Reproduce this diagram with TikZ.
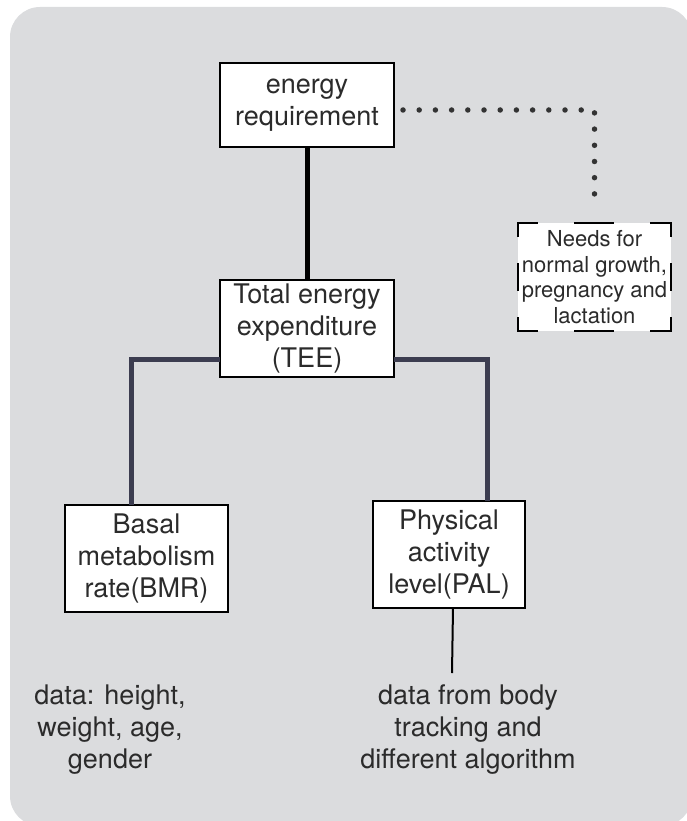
\documentclass[tikz,border=0pt]{standalone}
\usepackage{xcolor}
\usepackage{fontspec}
\setmainfont{TeX Gyre Heros}
\usepackage{tikz}
\usetikzlibrary{positioning, calc}
\definecolor{panel}{HTML}{DBDCDE}
\definecolor{ink}{HTML}{2B2B2B}
\definecolor{navy}{HTML}{3C3D50}
\definecolor{dotgray}{HTML}{333333}
\newcommand{\bigtext}{\fontsize{27}{32}\selectfont}
\newcommand{\smalltext}{\fontsize{22}{25.5}\selectfont}

\begin{document}
\begin{tikzpicture}[
    x = 1pt, y = -1pt, align = center, text = ink,
    block/.style = {
      rectangle, draw = black, fill = white, line width = 2.5pt,
      inner sep = 0pt, outer sep = 0pt, font = \bigtext
    },
    needsbox/.style = {
      rectangle, fill = white, inner sep = 0pt, outer sep = 0pt,
      minimum width = 153pt, minimum height = 108pt, font = \smalltext
    },
    datatext/.style = {
      inner sep = 0pt, font = \bigtext
    },
    trunk/.style = {
      draw = black, line width = 5pt
    },
    branch/.style = {
      draw = navy, line width = 5pt
    },
    feed/.style = {
      draw = black, line width = 2pt
    },
    dotlink/.style = {
      draw = dotgray, line width = 5.5pt, line cap = round,
      dash pattern = on 0pt off 16.2pt
    },
    % dashes of the needs box, lined up on the corners
    hdash/.style = {
      draw = black, line width = 2.5pt, line cap = rect,
      dash pattern = on 19pt off 38.5pt on 37pt off 38.5pt
    },
    vdash/.style = {
      draw = black, line width = 2.5pt, line cap = rect,
      dash pattern = on 13pt off 28pt on 26pt off 28pt
    },
    ]

    % panel
    \useasboundingbox (0,0) rectangle (687,821);
    \fill [panel, rounded corners = 30pt] (10,7) rectangle (692,826);

    % draw boxes
    \node  [block, minimum width = 174pt, minimum height = 84pt]  (req)  at (307,105)  {energy\\requirement};
    \node  [block, minimum width = 174pt, minimum height = 97pt]  (tee)  [below = 133pt of req]  {Total energy\\expenditure\\(TEE)};
    \node  [block, minimum width = 163pt, minimum height = 107pt]  (bmr)  at (146.5,558.5)  {Basal\\metabolism\\rate(BMR)};
    \node  [block, minimum width = 152pt, minimum height = 107pt]  (pal)  [right = 145pt of bmr, yshift = 4pt]  {Physical\\activity\\level(PAL)};
    \node  [needsbox]  (needs)  at (594.5,277)  {Needs for\\normal growth,\\pregnancy and\\lactation};

    % data notes
    \node  [datatext]  (bmrdata)  at (110,730)  {data: height,\\weight, age,\\gender};
    \node  [datatext]  (paldata)  at (468,730)  {data from body\\tracking and\\different algorithm};
    \coordinate  (palend)  at (452,673);

    % draw connectors
    \draw  [trunk]  (req)  --  (tee);
    \draw  [branch]  ([yshift = -30.5pt]tee.west)  -|  ([xshift = -15.5pt]bmr.north);
    \draw  [branch]  ([yshift = -30.5pt]tee.east)  -|  ([xshift = 38pt]pal.north);
    \draw  [dotlink]  ([xshift = 9pt, yshift = -5pt]req.east)  -|  ([yshift = 13pt]needs.north);
    \draw  [feed]  ([xshift = 4pt]pal.south)  --  (palend);

    % dashed border of the needs box
    \draw  [hdash]  (needs.north west)  --  (needs.north east);
    \draw  [hdash]  (needs.south west)  --  (needs.south east);
    \draw  [vdash]  (needs.north west)  --  (needs.south west);
    \draw  [vdash]  (needs.north east)  --  (needs.south east);
\end{tikzpicture}
\end{document}
